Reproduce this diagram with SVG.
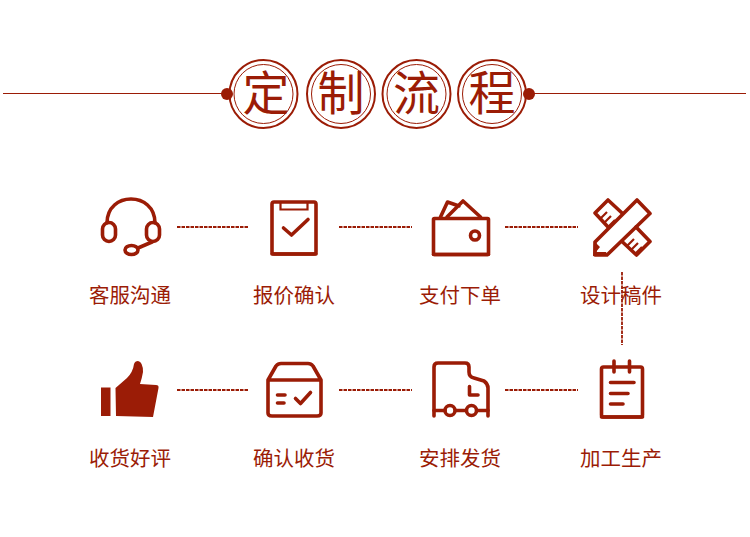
<svg xmlns="http://www.w3.org/2000/svg" width="750" height="537" viewBox="0 0 750 537">
<style>
.t{font-family:"Noto Sans CJK SC","Noto Sans",sans-serif;font-size:20.5px;fill:#9b1c06;text-anchor:middle}
.h{font-family:"Noto Sans CJK SC","Noto Sans",sans-serif;font-size:47px;fill:#9b1c06;text-anchor:middle}
.s{fill:none;stroke:#9b1c06;stroke-width:3.6;stroke-linejoin:round;stroke-linecap:round}
.n{fill:none;stroke:#9b1c06;stroke-width:2.2}
.f{fill:#9b1c06}
.o{fill:#fff;stroke:#9b1c06;stroke-width:2}
.i{fill:none;stroke:#9b1c06;stroke-width:1}
.l{fill:none;stroke:#9b1c06;stroke-width:1}
.d{fill:none;stroke:#9b1c06;stroke-width:1.8;stroke-dasharray:3.5 1}
</style>
<rect width="750" height="537" fill="#fff"/>
<g id="title">
<path class="l" d="M3 93.500H225M530 93.500H746"/>
<circle class="o" cx="263.500" cy="94" r="34"/><circle class="i" cx="263.500" cy="94" r="29.500"/><text class="h" x="266" y="110">定</text>
<circle class="o" cx="341" cy="94" r="34"/><circle class="i" cx="341" cy="94" r="29.500"/><text class="h" x="341" y="110">制</text>
<circle class="o" cx="416.500" cy="94" r="34"/><circle class="i" cx="416.500" cy="94" r="29.500"/><text class="h" x="416.500" y="110">流</text>
<circle class="o" cx="492" cy="94" r="34"/><circle class="i" cx="492" cy="94" r="29.500"/><text class="h" x="492" y="110">程</text>
<circle class="f" cx="227" cy="94" r="6"/><circle class="f" cx="529" cy="94" r="6"/>
</g>
<g id="n1"><path class="s" d="M107 223C107 191 155 191 155 223"/><rect class="s" x="102.500" y="222.500" width="13" height="19" rx="6.500"/><rect class="s" x="146.500" y="222.500" width="13" height="19" rx="6.500"/><ellipse class="s" cx="131.500" cy="250" rx="6.500" ry="4.500"/><path class="s" d="M138 248L152 242"/><text class="t" x="130" y="303">客服沟通</text></g>
<g id="n2"><rect class="s" x="272" y="202" width="44" height="52" rx="2"/><path class="s" d="M272 254H316"/><path class="n" d="M280.500 202V209.500H307.500V202"/><path class="s" d="M283.500 228L291.500 235L308 219.500"/><text class="t" x="294" y="303">报价确认</text></g>
<g id="n3"><rect class="s" x="433.500" y="218.500" width="55" height="36" rx="1"/><path class="s" d="M433.500 254.500H488.500"/><path class="s" d="M440.500 217L447.500 202L459 206M447 217L463 201L480.500 217"/><circle class="s" cx="475" cy="235.500" r="4.500"/><text class="t" x="460" y="303">支付下单</text></g>
<g id="n4"><path class="s" d="M608 227L595 213L608 200L622 213M622 241.500L636.500 255L650 241.500L636 227"/><path class="n" d="M600 219L607 212M604 223L611 216M608 227L615 220M627 246L634 239M631 250L638 243M635 254L642 247"/><path class="s" d="M595 242L637 200L650 213.500L607 255H595Z"/><path class="f" d="M594 241L600 247L596 252H606L608 256H593Z"/><text class="t" x="621" y="303">设计稿件</text></g>
<g id="n5"><rect class="s" x="601.500" y="367" width="41" height="50" rx="2"/><path class="s" d="M601.500 417H642.500"/><path class="s" d="M614 361V372M629.500 361V372M610.500 382.500H634M610.500 393.500H628M610.500 404H623"/><text class="t" x="621" y="466">加工生产</text></g>
<g id="n6"><path class="s" d="M434 416V367Q434 363 438 363H465Q469 363 469 367V372Q469 377 474 378L484 381Q488 384 488 388V416"/><path class="s" d="M434 410.500H445M456 410.500H466M477 410.500H488M469.500 386.500V395H478"/><circle class="s" cx="450" cy="410.500" r="5"/><circle class="s" cx="471.500" cy="410.500" r="5"/><text class="t" x="460" y="466">安排发货</text></g>
<g id="n7"><path class="s" d="M268 380L276 366Q278 363.500 281 363.500H308Q311 363.500 313 366L321 380V413Q321 416 317 416H272Q268 416 268 413ZM268 380H321"/><path class="s" d="M277.500 395H285M277.500 403H284M295.500 398.500L300.500 403.500L310.500 392.500"/><text class="t" x="294" y="466">确认收货</text></g>
<g id="n8"><path class="f" d="M101 387.500H110.500V416H101ZM115.500 388L127 378Q133 372 134 364Q135 361 138 361Q143 362 143 372Q142 378 140 384L156 385Q159 385 158.500 388L153 417L116 416Z"/><text class="t" x="130" y="466">收货好评</text></g>
<g id="connectors">
<path class="d" d="M177 227H249M339 227H412M505 227H578M177 390H249M339 390H412M505 390H578M622 272V345"/>
</g>
</svg>
